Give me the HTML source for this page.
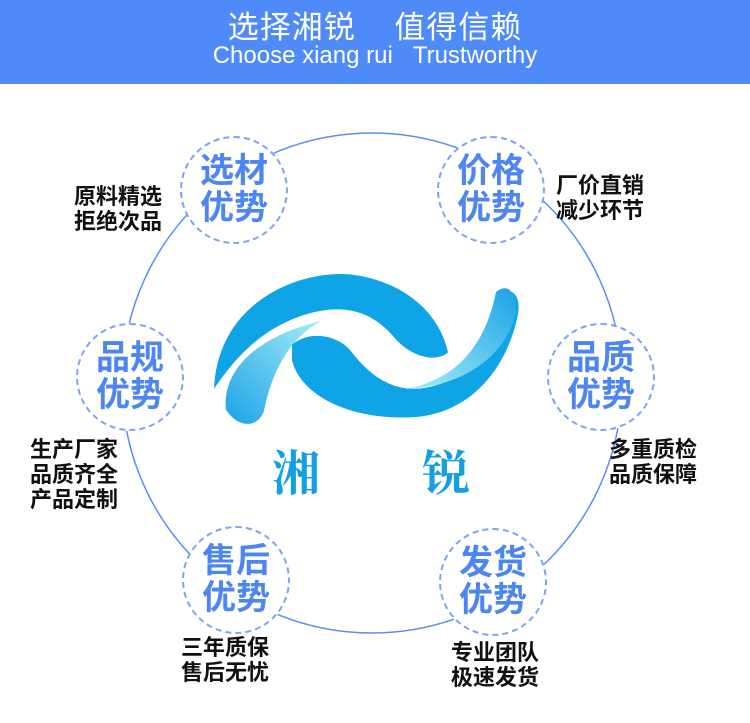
<!DOCTYPE html>
<html><head><meta charset="utf-8"><style>
body{margin:0;width:750px;height:723px;background:#fff;position:relative;overflow:hidden;font-family:"Liberation Sans","Noto Sans CJK SC",sans-serif}
.hdr{position:absolute;left:0;top:0;width:750px;height:84px;background:#4f8bf8;color:#fff;text-align:center}
.t1{position:absolute;left:0;width:750px;top:8px;font-size:31px;line-height:40px;letter-spacing:1px}
.t2{position:absolute;left:0;width:750px;top:40px;font-size:24px;line-height:32px}
.lbl{position:absolute;font-size:22px;font-weight:bold;line-height:25px;color:#111}
.c{position:absolute;width:104px;height:104px;margin:-54px 0 0 -54px;border:2px dashed #7ea3f0;border-radius:50%;background:#fff;color:#4d86f2;font-weight:bold;font-size:34px;line-height:37px;text-align:center;display:flex;align-items:center;justify-content:center}
</style></head><body>
<div class="hdr"><div class="t1">选择湘锐&nbsp;&nbsp;&nbsp;&nbsp;值得信赖</div><div class="t2">Choose xiang rui&nbsp;&nbsp;&nbsp;Trustworthy</div></div>
<svg style="position:absolute;left:0;top:0" width="750" height="723">
<defs><linearGradient id="g1" x1="0" y1="1" x2="1" y2="0"><stop offset="0" stop-color="#1aa3e6"/><stop offset="1" stop-color="#a8eef8"/></linearGradient>
<linearGradient id="g2" x1="1" y1="0" x2="0" y2="1"><stop offset="0" stop-color="#1aa3e6"/><stop offset="1" stop-color="#a8eef8"/></linearGradient></defs>
<circle cx="372" cy="383" r="250" fill="none" stroke="#5b8ef2" stroke-width="1.5"/>
<g transform="translate(0,-27) scale(1,1.1)">
<path d="M214 378 C218 298 300 270 350 274 C405 280 440 310 448 345 C435 355 410 348 395 332 C370 305 340 300 300 312 C260 325 235 350 214 378Z" fill="#0ea4e6"/>
<path d="M226 397 C222 365 250 332 322 316 C292 330 272 360 264 398 C258 414 238 414 226 397Z" fill="url(#g1)"/>
<path d="M292 338 C308 325 338 328 352 345 C382 380 412 383 442 373 C472 363 490 333 498 298 C505 283 522 288 518 310 C508 357 472 402 410 404 C345 406 300 382 292 352Z" fill="#0ea4e6"/>
<path d="M406 378 C455 370 485 340 496 290 C512 278 520 300 514 315 C502 350 462 376 406 378Z" fill="url(#g2)"/>
</g>
<text x="272" y="490" font-size="48" fill="#13a0e2" font-family="'Noto Serif CJK SC',serif" font-weight="bold">湘</text>
<text x="422" y="490" font-size="48" fill="#13a0e2" font-family="'Noto Serif CJK SC',serif" font-weight="bold">锐</text>
</svg>
<div class="c" style="left:234px;top:190px">选材<br>优势</div>
<div class="c" style="left:491px;top:190px">价格<br>优势</div>
<div class="c" style="left:130px;top:377px">品规<br>优势</div>
<div class="c" style="left:601px;top:377px">品质<br>优势</div>
<div class="c" style="left:236px;top:580px">售后<br>优势</div>
<div class="c" style="left:493px;top:582px">发货<br>优势</div>
<div class="lbl" style="left:74px;top:184px">原料精选<br>拒绝次品</div>
<div class="lbl" style="left:556px;top:173px">厂价直销<br>减少环节</div>
<div class="lbl" style="left:30px;top:437px">生产厂家<br>品质齐全<br>产品定制</div>
<div class="lbl" style="left:609px;top:437px">多重质检<br>品质保障</div>
<div class="lbl" style="left:181px;top:635px">三年质保<br>售后无忧</div>
<div class="lbl" style="left:451px;top:640px">专业团队<br>极速发货</div>
</body></html>
